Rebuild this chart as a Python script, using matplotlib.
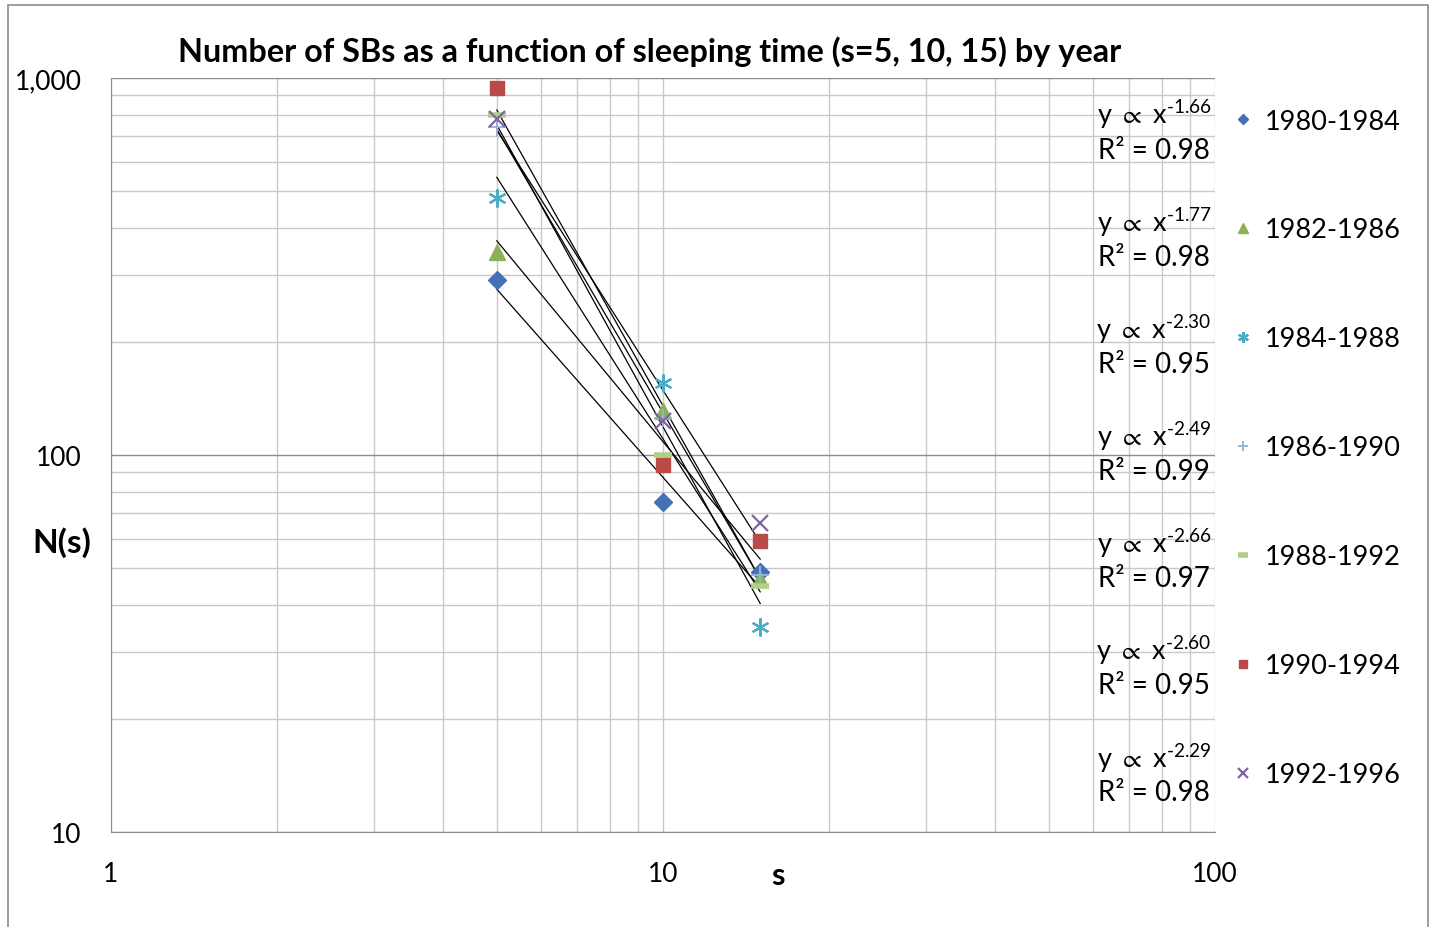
import numpy as np
import matplotlib
matplotlib.use('Agg')
import matplotlib.pyplot as plt
from matplotlib.patches import Rectangle

plt.rcParams['font.family'] = ['Lato', 'DejaVu Sans']
plt.rcParams['mathtext.fontset'] = 'custom'
plt.rcParams['mathtext.rm'] = 'Lato'
plt.rcParams['mathtext.it'] = 'Lato'
plt.rcParams['mathtext.fallback'] = 'stixsans'

# data
s = [5, 10, 15]
periods = ['1980-1984', '1982-1986', '1984-1988', '1986-1990',
           '1988-1992', '1990-1994', '1992-1996']
n_8084 = [291, 75, 49]
n_8286 = [345, 131, 47]
n_8488 = [481, 155, 35]
n_8690 = [741, 125, 48]
n_8892 = [800, 100, 45]
n_9094 = [940, 94, 59]
n_9296 = [779, 123, 66]
exponents = ['-1.66', '-1.77', '-2.30', '-2.49', '-2.66', '-2.60', '-2.29']
r2 = ['0.98', '0.98', '0.95', '0.99', '0.97', '0.95', '0.98']

series = [n_8084, n_8286, n_8488, n_8690, n_8892, n_9094, n_9296]
colors = ['#4572B4', '#8DB255', '#4BACC6', '#95B3D7', '#B3CF87', '#B94A48', '#8064A2']
markers = ['D', '^', (6, 2, 0), '+', '_', 's', 'x']
sizes = [9, 11, 13, 13, 13, 10.5, 12]
widths = [1, 1, 1.6, 1.4, 4, 1, 1.6]

W, H = 1430, 928
fig = plt.figure(figsize=(W / 100, H / 100), dpi=100)
ax = fig.add_axes([111 / W, 1 - 833 / H, (1215 - 111) / W, (833 - 79) / H])

# power-law trendlines, from a fit of the data
xs = np.array(s, dtype=float)
for vals in series:
    k, b = np.polyfit(np.log10(xs), np.log10(vals), 1)
    ax.plot(xs[[0, -1]], 10 ** (b + k * np.log10(xs[[0, -1]])), color='black', lw=0.9, zorder=3)

handles = []
for vals, c, m, ms, mw, lab in zip(series, colors, markers, sizes, widths, periods):
    h, = ax.plot(s, vals, ls='none', marker=m, color=c, ms=ms, mew=mw, label=lab, zorder=4)
    handles.append(h)

ax.set_xscale('log')
ax.set_yscale('log')
ax.set_xlim(1, 100)
ax.set_ylim(10, 1000)
ax.grid(True, which='minor', color='#C8C8C8', lw=1)
ax.grid(True, which='major', axis='x', color='#C8C8C8', lw=1)
ax.grid(True, which='major', axis='y', color='#8C8C8C', lw=1)
ax.set_axisbelow(True)
for sp in ['top', 'right']:
    ax.spines[sp].set_visible(False)
for sp in ['left', 'bottom']:
    ax.spines[sp].set_color('#8C8C8C')

ax.set_xticks([1, 10, 100], ['1', '10', '100'])
ax.set_yticks([10, 100, 1000], ['10', '100', '1,000'])
ax.tick_params(which='major', length=0, pad=21, labelsize=19)
ax.tick_params(which='minor', length=0)
ax.minorticks_on()
ax.xaxis.set_minor_formatter(plt.NullFormatter())
ax.yaxis.set_minor_formatter(plt.NullFormatter())

ax.set_xlabel('s', fontsize=22, fontweight='bold', va='center')
ax.xaxis.set_label_coords((778 - 111) / 1104, (833 - 876) / 754)
ax.set_ylabel('N(s)', fontsize=24, fontweight='bold', rotation=0, va='center', ha='center')
ax.yaxis.set_label_coords((62 - 111) / 1104, (833 - 543) / 754)

fig.text(650 / W, 1 - 52 / H, 'Number of SBs as a function of sleeping time (s=5, 10, 15) by year',
         ha='center', va='center', fontsize=23.3, fontweight='bold')

# trendline equations
for i, (e, r) in enumerate(zip(exponents, r2)):
    fig.text(1154 / W, 1 - (115 + i * 107.2) / H, r'y $\propto$ x$^{\text{' + e + '}}$',
             ha='center', va='center', fontsize=19.5)
    fig.text(1154 / W, 1 - (151 + i * 107) / H, 'R² = ' + r,
             ha='center', va='center', fontsize=20)

leg = fig.legend(handles=handles, loc='upper left', bbox_to_anchor=(1216 / W, 1 - 96 / H),
                 frameon=False, fontsize=19.5, markerscale=0.6, labelspacing=3.1,
                 handlelength=1.0, handletextpad=0.3, borderpad=0)

fig.add_artist(Rectangle((8 / W, -0.01), 1420 / W, 1 - 6 / H + 0.01, transform=fig.transFigure,
                         fill=False, edgecolor='#8C8C8C', lw=1.2))

fig.savefig('out.png', dpi=100)
